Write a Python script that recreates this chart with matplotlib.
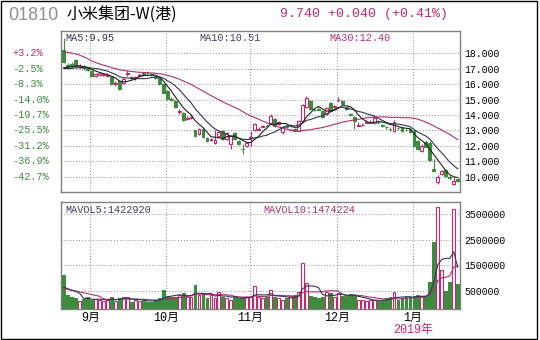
import numpy as np
import matplotlib
matplotlib.use('Agg')
import matplotlib.pyplot as plt
from matplotlib.patches import Rectangle
from matplotlib.transforms import blended_transform_factory

plt.rcParams['font.family'] = ['Liberation Mono', 'Noto Sans CJK SC', 'DejaVu Sans']

# closes / volumes before the first drawn day (only feed the moving averages)
prior_close = [18.2, 18.5, 18.9, 19.4, 20.2, 20.5, 20.8, 19.9, 19.5, 19.0,
               18.8, 18.5, 18.2, 17.9, 17.7, 17.7, 17.4, 17.2, 17.4, 17.0,
               17.2, 17.0, 16.9, 17.0, 16.8, 16.9, 17.1, 16.9, 17.0]
prior_volume = [550000, 600000, 500000, 450000, 500000, 600000, 550000, 450000, 500000]

open_ = [18.20, 17.25, 17.30, 17.55, 17.10, 17.15, 17.05, 16.85, 16.55, 16.62,
         16.62, 16.55, 16.45, 16.00, 16.20, 16.05, 16.65, 16.45, 16.38, 16.50,
         16.72, 16.75, 16.65, 16.55, 16.40, 16.00, 15.55, 15.02, 14.90, 14.20,
         14.15, 13.75, 13.82, 13.00, 12.75, 13.10, 12.52, 12.40, 12.20, 12.65,
         12.95, 12.42, 12.10, 12.85, 12.33, 11.82, 12.00, 12.50, 13.00, 13.05,
         13.25, 13.30, 13.50, 13.72, 13.40, 12.88, 13.30, 13.02, 13.10, 12.98,
         13.62, 14.50, 14.90, 14.35, 14.40, 14.25, 14.05, 14.80, 14.55, 14.95,
         14.90, 14.50, 14.08, 13.90, 13.32, 13.35, 13.50, 13.50, 13.50, 13.58,
         13.35, 13.22, 13.12, 12.95, 13.18, 13.18, 13.02, 13.10, 12.95, 12.30,
         11.65, 12.25, 12.20, 10.50, 9.65, 10.15, 10.45, 10.00, 9.50, 9.85]
high = [19.00, 17.35, 17.45, 17.65, 17.30, 17.25, 17.10, 16.90, 16.75, 16.80,
        16.75, 16.70, 16.50, 16.20, 16.25, 16.40, 16.90, 16.55, 16.55, 16.70,
        16.80, 16.85, 16.72, 16.60, 16.45, 16.05, 15.60, 15.15, 14.95, 14.40,
        14.20, 13.95, 14.00, 13.05, 13.15, 13.15, 12.58, 12.50, 13.00, 13.05,
        13.00, 12.90, 12.65, 12.90, 12.38, 12.10, 12.25, 12.97, 13.50, 13.25,
        13.35, 13.40, 14.10, 13.78, 13.60, 13.30, 13.35, 13.10, 13.15, 13.65,
        14.70, 15.22, 14.95, 14.45, 14.50, 14.30, 14.50, 14.85, 14.65, 15.15,
        14.95, 14.55, 14.15, 13.95, 13.55, 13.50, 13.70, 13.70, 13.95, 13.65,
        13.45, 13.30, 13.20, 13.70, 13.25, 13.22, 13.10, 13.15, 13.00, 12.35,
        12.10, 12.40, 12.30, 11.15, 10.10, 10.45, 10.50, 10.10, 10.00, 9.90]
low = [17.40, 17.00, 17.05, 17.05, 17.00, 16.95, 16.85, 16.45, 16.45, 16.55,
       16.50, 16.45, 15.95, 15.90, 15.60, 16.00, 16.50, 16.30, 16.30, 16.45,
       16.55, 16.60, 16.50, 16.35, 15.95, 15.40, 15.00, 14.90, 14.45, 14.10,
       13.60, 13.65, 13.75, 12.55, 12.70, 12.50, 12.28, 12.30, 12.15, 12.55,
       12.40, 12.40, 11.77, 12.40, 12.08, 11.45, 11.95, 11.99, 12.95, 13.00,
       13.20, 13.22, 13.40, 13.25, 13.35, 12.80, 13.15, 12.95, 12.95, 12.95,
       13.55, 14.45, 14.35, 14.25, 14.30, 13.80, 14.00, 14.25, 14.45, 14.85,
       14.68, 14.35, 13.95, 13.10, 13.30, 13.30, 13.50, 13.50, 13.45, 13.45,
       13.25, 13.10, 12.95, 12.92, 13.05, 12.92, 12.95, 12.85, 11.95, 11.75,
       11.60, 11.90, 11.05, 10.30, 9.50, 10.10, 10.00, 9.85, 9.45, 9.65]
close = [17.44, 17.10, 17.15, 17.15, 17.18, 17.05, 16.90, 16.52, 16.65, 16.70,
         16.65, 16.60, 16.00, 16.10, 15.70, 16.35, 16.75, 16.38, 16.45, 16.62,
         16.65, 16.70, 16.58, 16.42, 16.00, 15.45, 15.05, 14.98, 14.50, 14.28,
         13.65, 13.80, 13.88, 12.62, 13.10, 12.55, 12.32, 12.42, 12.40, 12.88,
         12.45, 12.85, 12.62, 12.42, 12.10, 11.78, 12.20, 12.58, 13.43, 13.12,
         13.30, 13.28, 13.92, 13.30, 13.52, 13.25, 13.20, 13.06, 12.98, 13.60,
         14.65, 15.10, 14.38, 14.32, 14.35, 13.85, 14.45, 14.28, 14.60, 15.00,
         14.70, 14.40, 14.03, 13.60, 13.38, 13.38, 13.55, 13.55, 13.80, 13.55,
         13.32, 13.20, 13.08, 13.55, 13.15, 12.95, 13.00, 12.90, 12.00, 11.80,
         12.00, 11.95, 11.10, 10.35, 10.00, 10.35, 10.05, 9.90, 9.70, 9.74]
volume = [1120000, 340000, 260000, 210000, 120000, 170000, 260000, 150000, 170000, 150000,
          120000, 150000, 280000, 120000, 210000, 260000, 250000, 80000, 150000, 120000,
          150000, 80000, 80000, 150000, 210000, 540000, 320000, 280000, 280000, 340000,
          410000, 280000, 280000, 730000, 340000, 410000, 210000, 340000, 210000, 470000,
          280000, 210000, 150000, 280000, 210000, 250000, 280000, 280000, 690000, 280000,
          210000, 280000, 540000, 280000, 210000, 150000, 210000, 300000, 340000, 470000,
          1580000, 800000, 300000, 280000, 210000, 280000, 470000, 410000, 280000, 410000,
          300000, 300000, 370000, 340000, 150000, 150000, 120000, 150000, 150000, 110000,
          150000, 210000, 280000, 470000, 150000, 210000, 280000, 280000, 300000, 340000,
          280000, 287640, 860000, 2420000, 3780000, 1300000, 500000, 850000, 3700000, 764600]

month_start = [7, 26, 47, 69, 88]
month_label = ['9月', '10月', '11月', '12月', '1月']
year_label = '2019年'
stock_code = '01810'
stock_name = '小米集团-W(港)'
price_ticks = [10, 11, 12, 13, 14, 15, 16, 17, 18]
vol_ticks = [500000, 1500000, 2500000, 3500000]

UP = '#c8286a'
DOWN = '#3f8a3f'
GRID = '#8c8c8c'
FRAME = '#808080'
MA5_C = '#202020'
MA10_C = '#34345a'
MA30_C = '#b03072'
W, H = 540, 340


def moving_average(prior, values, n):
    full = np.concatenate([prior, values]).astype(float)
    out = np.convolve(full, np.ones(n) / n, mode='valid')
    return out[-len(values):]


def box(left, top, right, bottom):
    # pixel box -> figure fraction
    return [left / W, 1 - bottom / H, (right - left) / W, (bottom - top) / H]


o = np.array(open_)
h = np.array(high)
l = np.array(low)
c = np.array(close)
v = np.array(volume, dtype=float)
n = len(c)
x = np.arange(n)
up = c >= o

ma5 = moving_average(prior_close, c, 5)
ma10 = moving_average(prior_close, c, 10)
ma30 = moving_average(prior_close, c, 30)
mavol5 = moving_average(prior_volume, v, 5)
mavol10 = moving_average(prior_volume, v, 10)

fig = plt.figure(figsize=(W / 100, H / 100), dpi=100)
fig.add_artist(Rectangle((1 / W, 1 / H), 536 / W, 338 / H, transform=fig.transFigure,
                         fill=False, ec='black', lw=1))

ax = fig.add_axes(box(60.5, 31, 460, 192))
axv = fig.add_axes(box(60.5, 202, 460, 309))

vlines_x = [m - 0.3 for m in month_start]
for a in (ax, axv):
    a.set_xlim(-0.8, n - 0.43)
    a.set_xticks(vlines_x)
    a.set_xticklabels([])
    a.grid(True, linestyle=(0, (1, 2)), color=GRID, lw=0.7)
    a.set_axisbelow(True)
    for s in a.spines.values():
        s.set_color(FRAME)
        s.set_linewidth(1)
    a.yaxis.tick_right()
    a.tick_params(length=0, labelsize=7.1, pad=3, colors='black')

# price panel
ax.set_ylim(9.01, 19.45)
ax.set_yticks(price_ticks)
ax.set_yticklabels(['%.3f' % p for p in price_ticks])

cols = np.where(up, UP, DOWN)
ax.vlines(x, l, h, colors=cols, lw=0.8, zorder=2)
bottom = np.minimum(o, c)
height = np.abs(c - o)
ax.bar(x[up], height[up], bottom=bottom[up], width=0.72, facecolor='white',
       edgecolor=UP, lw=0.8, zorder=3)
ax.bar(x[~up], height[~up], bottom=bottom[~up], width=0.72, facecolor=DOWN,
       edgecolor=DOWN, lw=0.8, zorder=3)

ax.plot(x, ma30, color=MA30_C, lw=0.8, zorder=4)
ax.plot(x, ma10, color=MA10_C, lw=0.8, zorder=4)
ax.plot(x, ma5, color=MA5_C, lw=0.8, zorder=4)

tr = blended_transform_factory(ax.transAxes, ax.transData)
base = c[0]
for p in price_ticks:
    pct = (p / base - 1) * 100
    ax.text(-0.121, p, '%+.1f%%' % pct, transform=tr, fontsize=7.3,
            color=UP if pct > 0 else DOWN, ha='left', va='center')

ax.text(0.012, 0.955, 'MA5:%.2f' % ma5[-1], transform=ax.transAxes, fontsize=7.3,
        color='#303050', va='center', ha='left')
ax.text(0.348, 0.955, 'MA10:%.2f' % ma10[-1], transform=ax.transAxes, fontsize=7.3,
        color='#404060', va='center', ha='left')
ax.text(0.672, 0.955, 'MA30:%.2f' % ma30[-1], transform=ax.transAxes, fontsize=7.3,
        color=MA30_C, va='center', ha='left')

# volume panel
vmin = -0.201e6
axv.set_ylim(vmin, 3.967e6)
axv.set_yticks(vol_ticks)
axv.set_yticklabels(['%d' % t for t in vol_ticks])
axv.bar(x[up], v[up] - vmin, bottom=vmin, width=0.72, facecolor='white',
        edgecolor=UP, lw=0.8, zorder=3)
axv.bar(x[~up], v[~up] - vmin, bottom=vmin, width=0.72, facecolor=DOWN,
        edgecolor=DOWN, lw=0.8, zorder=3)
axv.plot(x, mavol10, color=MA30_C, lw=0.8, zorder=4)
axv.plot(x, mavol5, color=MA10_C, lw=0.8, zorder=4)

axv.text(0.012, 0.925, 'MAVOL5:%d' % round(mavol5[-1]), transform=axv.transAxes,
         fontsize=7.3, color='#403868', va='center', ha='left')
axv.text(0.509, 0.925, 'MAVOL10:%d' % round(mavol10[-1]), transform=axv.transAxes,
         fontsize=7.3, color=MA30_C, va='center', ha='left')

trv = blended_transform_factory(axv.transData, axv.transAxes)
for pos, lab in zip(vlines_x, month_label):
    axv.text(pos, -0.085, lab, transform=trv, fontsize=8.5, ha='center', va='center',
             color='black')
axv.text(vlines_x[-1], -0.2, year_label, transform=trv, fontsize=8.5, ha='center',
         va='center', color=UP)

# header
fig.text(8 / W, 1 - 15 / H, stock_code, fontsize=13, color='#909090',
         family=['Liberation Sans', 'DejaVu Sans'], va='center', ha='left')
fig.text(67 / W, 1 - 14 / H, stock_name, fontsize=11.5, color='black',
         family=['Noto Sans CJK SC', 'DejaVu Sans'], va='center', ha='left')
chg = c[-1] - c[-2]
fig.text(280 / W, 1 - 14 / H, '%.3f %+.3f (%+.2f%%)' % (c[-1], chg, chg / c[-2] * 100),
         fontsize=9.5, color=UP, va='center', ha='left')

fig.savefig('out.png', dpi=100)
